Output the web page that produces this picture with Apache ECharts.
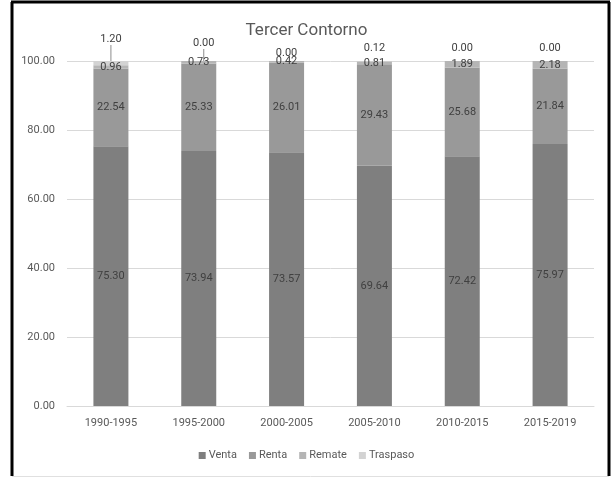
<!DOCTYPE html>
<html>
<head>
<meta charset="utf-8">
<script src="https://cdn.jsdelivr.net/npm/echarts@6/dist/echarts.min.js"></script>
<style>
  html, body { margin: 0; padding: 0; background: #fff; }
  #chart { width: 613px; height: 478px; }
</style>
</head>
<body>
<div id="chart"></div>
<script>
// Periods on the category axis
var periods = ['1990-1995', '1995-2000', '2000-2005', '2005-2010', '2010-2015', '2015-2019'];

// Share of each transaction type per period (%)
var venta    = [75.30, 73.94, 73.57, 69.64, 72.42, 75.97];
var renta    = [22.54, 25.33, 26.01, 29.43, 25.68, 21.84];
var remate   = [0.96, 0.73, 0.42, 0.81, 1.89, 2.18];
var traspaso = [1.20, 0.00, 0.00, 0.12, 0.00, 0.00];

// Value axis ticks
var yMin = 0, yMax = 100, yStep = 20;

var FONT = 'Roboto, "Liberation Sans", sans-serif';
var labelColor = '#404040';

// Nudges for the labels sitting above each bar, and which ones get a leader line
var topLabelShift = [[0, -9], [5, -5], [0, 5], [0, 0], [0, 0], [0, 0]];
var topLabelLines = [true, true, false, false, false, false];

function innerLabel() {
  return {
    show: true,
    position: 'inside',
    color: labelColor,
    fontFamily: FONT,
    fontSize: 11,
    formatter: function (p) { return p.value.toFixed(2); }
  };
}

var chart = echarts.init(document.getElementById('chart'), null, { renderer: 'canvas' });

chart.setOption({
  animation: false,
  backgroundColor: '#ffffff',
  title: {
    text: 'Tercer Contorno',
    left: 'center',
    top: 17,
    textStyle: { fontFamily: FONT, fontSize: 17, fontWeight: 'normal', color: '#595959' }
  },
  legend: {
    bottom: 12,
    left: 'center',
    icon: 'rect',
    itemWidth: 7,
    itemHeight: 7,
    itemGap: 12,
    textStyle: { fontFamily: FONT, fontSize: 11, color: '#595959', padding: [0, 0, 0, -2] },
    data: ['Venta', 'Renta', 'Remate', 'Traspaso']
  },
  grid: { left: 67, right: 19, top: 61, bottom: 72 },
  xAxis: {
    type: 'category',
    data: periods,
    axisTick: { show: false },
    axisLine: { lineStyle: { color: '#d9d9d9' } },
    axisLabel: { fontFamily: FONT, fontSize: 11, color: '#595959', margin: 12 }
  },
  yAxis: {
    type: 'value',
    min: yMin,
    max: yMax,
    interval: yStep,
    axisLine: { show: false },
    axisTick: { show: false },
    splitLine: { lineStyle: { color: '#d9d9d9' } },
    axisLabel: {
      fontFamily: FONT, fontSize: 11, color: '#595959', margin: 12,
      formatter: function (v) { return v.toFixed(2); }
    }
  },
  series: [
    {
      name: 'Venta', type: 'bar', stack: 'total', barWidth: 35,
      itemStyle: { color: '#7f7f7f' },
      label: innerLabel(),
      data: venta
    },
    {
      name: 'Renta', type: 'bar', stack: 'total', barWidth: 35,
      itemStyle: { color: '#999999' },
      label: innerLabel(),
      data: renta
    },
    {
      name: 'Remate', type: 'bar', stack: 'total', barWidth: 35,
      itemStyle: { color: '#b5b5b5' },
      label: innerLabel(),
      data: remate
    },
    {
      name: 'Traspaso', type: 'bar', stack: 'total', barWidth: 35,
      itemStyle: { color: '#d3d3d3' },
      label: {
        show: true,
        position: 'top',
        distance: 7,
        color: labelColor,
        fontFamily: FONT,
        fontSize: 11,
        formatter: function (p) { return p.value.toFixed(2); }
      },
      labelLine: { show: true, length2: 0, lineStyle: { color: '#8c8c8c', width: 1 } },
      labelLayout: function (params) {
        var s = topLabelShift[params.dataIndex];
        return { dx: s[0], dy: s[1] };
      },
      data: traspaso.map(function (v, i) {
        return { value: v, labelLine: { show: topLabelLines[i] } };
      })
    }
  ],
  graphic: [
    { type: 'line', shape: { x1: 12, y1: 2, x2: 12, y2: 476 }, style: { stroke: '#000', lineWidth: 3 } },
    { type: 'line', shape: { x1: 11, y1: 2, x2: 610, y2: 2 }, style: { stroke: '#000', lineWidth: 3 } },
    { type: 'line', shape: { x1: 609, y1: 2, x2: 609, y2: 476 }, style: { stroke: '#000', lineWidth: 3 } },
    { type: 'line', shape: { x1: 12, y1: 476.5, x2: 609, y2: 476.5 }, style: { stroke: '#e0e0e0', lineWidth: 1 } }
  ]
});
</script>
</body>
</html>
